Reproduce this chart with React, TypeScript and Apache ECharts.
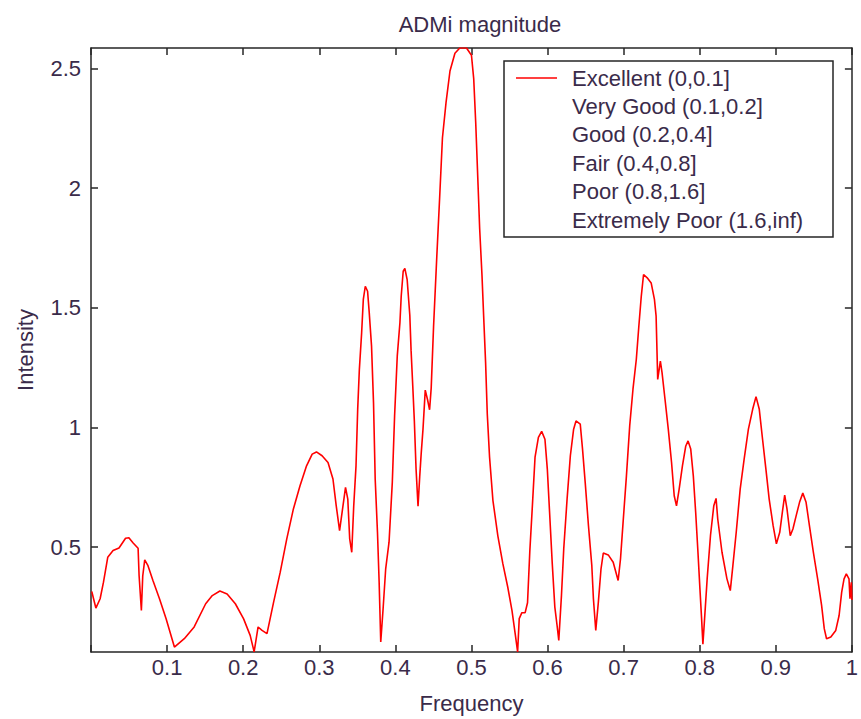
import React, { useEffect, useRef } from "react";
import * as echarts from "echarts";

const TITLE = "ADMi magnitude";
const X_NAME = "Frequency";
const Y_NAME = "Intensity";

const FREQ = [
  0.001, 0.0064, 0.012, 0.0164, 0.022, 0.029, 0.0368, 0.0454, 0.0498, 0.0554,
  0.0619, 0.0632, 0.0662, 0.068, 0.0706, 0.0749, 0.0814, 0.09, 0.0987, 0.1096,
  0.1226, 0.1356, 0.1507, 0.1594, 0.1694, 0.1789, 0.1897, 0.2006, 0.2092, 0.2144,
  0.2196, 0.2248, 0.2313, 0.24, 0.2487, 0.2573, 0.266, 0.2747, 0.2833, 0.2907,
  0.2963, 0.3037, 0.3115, 0.318, 0.3223, 0.3267, 0.33, 0.3345, 0.3375, 0.34,
  0.3427, 0.3453, 0.3483, 0.3505, 0.3527, 0.3557, 0.3579, 0.3605, 0.3635, 0.3657,
  0.3687, 0.3713, 0.3735, 0.3765, 0.3787, 0.3808, 0.3839, 0.3873, 0.3917, 0.396,
  0.399, 0.4025, 0.406, 0.4077, 0.4103, 0.4125, 0.4155, 0.419, 0.4207, 0.4229,
  0.425, 0.4272, 0.4298, 0.432, 0.434, 0.4363, 0.4393, 0.4424, 0.445, 0.4471,
  0.4502, 0.4545, 0.458, 0.4619, 0.4666, 0.4718, 0.4783, 0.4847, 0.4935, 0.5,
  0.503, 0.5056, 0.5087, 0.5108, 0.5139, 0.516, 0.5186, 0.5208, 0.5238, 0.5282,
  0.5347, 0.5412, 0.5477, 0.5533, 0.5576, 0.5607, 0.5628, 0.5663, 0.5706, 0.5737,
  0.5767, 0.5802, 0.5836, 0.588, 0.5923, 0.5966, 0.5997, 0.6027, 0.6062, 0.6096,
  0.6127, 0.6148, 0.6183, 0.6213, 0.6257, 0.63, 0.6343, 0.6374, 0.643, 0.646,
  0.6495, 0.6538, 0.6582, 0.6603, 0.6634, 0.6668, 0.6703, 0.6733, 0.6798, 0.6863,
  0.6928, 0.6959, 0.6993, 0.7037, 0.708, 0.7123, 0.7167, 0.72, 0.7232, 0.7262,
  0.731, 0.7362, 0.7405, 0.7427, 0.7448, 0.7483, 0.7505, 0.7544, 0.7587, 0.763,
  0.7665, 0.7695, 0.773, 0.7773, 0.7817, 0.7847, 0.7882, 0.7916, 0.7947, 0.7977,
  0.8003, 0.8025, 0.8042, 0.8064, 0.8098, 0.8142, 0.8185, 0.8215, 0.8237, 0.8293,
  0.8358, 0.8402, 0.8436, 0.848, 0.8532, 0.8584, 0.864, 0.8696, 0.874, 0.8783,
  0.8826, 0.887, 0.8913, 0.8965, 0.9008, 0.9052, 0.9086, 0.9117, 0.9147, 0.919,
  0.9225, 0.9268, 0.9312, 0.9355, 0.9398, 0.9442, 0.9494, 0.955, 0.9602, 0.9637,
  0.9667, 0.9723, 0.9788, 0.9832, 0.9866, 0.9897, 0.9927, 0.9962, 0.9975, 0.9992,
  1.0,
];

const INTENSITY = [
  0.315, 0.246, 0.285, 0.354, 0.458, 0.486, 0.497, 0.5375, 0.54, 0.518,
  0.496, 0.382, 0.236, 0.38, 0.447, 0.423, 0.361, 0.285, 0.201, 0.083,
  0.118, 0.167, 0.264, 0.298, 0.317, 0.305, 0.264, 0.201, 0.132, 0.063,
  0.167, 0.1525, 0.139, 0.271, 0.396, 0.535, 0.66, 0.757, 0.84, 0.889,
  0.898, 0.882, 0.854, 0.785, 0.673, 0.569, 0.646, 0.75, 0.701, 0.535,
  0.479, 0.673, 0.84, 1.076, 1.243, 1.396, 1.535, 1.59, 1.569, 1.479,
  1.34, 1.104, 0.785, 0.5625, 0.354, 0.104, 0.243, 0.41, 0.521, 0.771,
  1.048, 1.298, 1.4375, 1.548, 1.6525, 1.664, 1.618, 1.469, 1.32, 1.1725,
  1.0245, 0.8275, 0.671, 0.794, 0.893, 0.992, 1.156, 1.115, 1.074, 1.1646,
  1.42, 1.716, 1.946, 2.21, 2.357, 2.489, 2.563, 2.585, 2.585, 2.555,
  2.456, 2.275, 2.012, 1.831, 1.633, 1.469, 1.272, 1.0575, 0.8767, 0.696,
  0.5475, 0.4325, 0.334, 0.235, 0.136, 0.063, 0.202, 0.2267, 0.2267, 0.268,
  0.4817, 0.679, 0.8767, 0.959, 0.984, 0.951, 0.8275, 0.646, 0.4325, 0.25,
  0.169, 0.111, 0.298, 0.493, 0.701, 0.882, 0.993, 1.0275, 1.014, 0.91,
  0.771, 0.59, 0.423, 0.285, 0.1525, 0.271, 0.41, 0.476, 0.468, 0.4375,
  0.361, 0.451, 0.604, 0.798, 1.007, 1.16, 1.285, 1.423, 1.548, 1.639,
  1.625, 1.604, 1.535, 1.465, 1.201, 1.2775, 1.229, 1.118, 0.993, 0.854,
  0.715, 0.673, 0.743, 0.84, 0.923, 0.944, 0.91, 0.798, 0.646, 0.479,
  0.326, 0.201, 0.095, 0.201, 0.368, 0.55, 0.673, 0.704, 0.618, 0.479,
  0.368, 0.319, 0.423, 0.5625, 0.743, 0.868, 0.993, 1.076, 1.129, 1.076,
  0.951, 0.826, 0.701, 0.59, 0.514, 0.5625, 0.646, 0.718, 0.66, 0.548,
  0.576, 0.632, 0.6875, 0.726, 0.6875, 0.59, 0.479, 0.368, 0.257, 0.16,
  0.118, 0.125, 0.1525, 0.215, 0.3125, 0.368, 0.389, 0.368, 0.285, 0.354,
  0.28,
];

const Y_TICKS = [0.5, 1, 1.5, 2, 2.5];
const LEGEND_LABELS = [
  "Excellent (0,0.1]",
  "Very Good (0.1,0.2]",
  "Good (0.2,0.4]",
  "Fair (0.4,0.8]",
  "Poor (0.8,1.6]",
  "Extremely Poor (1.6,inf)",
];

const FONT = "'Liberation Sans', Arial, sans-serif";
const TEXT_COLOR = "#3a2b4a";
const AXIS_COLOR = "#262626";
const LINE_COLOR = "#ff0000";

export default function App() {
  const ref = useRef<HTMLDivElement>(null);

  useEffect(() => {
    if (!ref.current) return;
    const chart = echarts.init(ref.current, null, { renderer: "svg" });

    const axisLine = { show: true, onZero: false, lineStyle: { color: AXIS_COLOR, width: 1.5 } };
    const axisTick = { show: true, inside: true, length: 7, lineStyle: { color: AXIS_COLOR, width: 1.5 } };
    const fmtX = (v: number) => {
      if (Math.abs(v) < 1e-9) return "";
      if (Math.abs(v - 1) < 1e-9) return "1";
      return v.toFixed(1);
    };

    const legendGraphics: any[] = [
      {
        type: "rect",
        shape: { x: 504, y: 61, width: 329, height: 176 },
        style: { fill: "#ffffff", stroke: AXIS_COLOR, lineWidth: 1.5 },
        z: 100,
      },
      {
        type: "line",
        shape: { x1: 516, y1: 78, x2: 557, y2: 78 },
        style: { stroke: LINE_COLOR, lineWidth: 1.5 },
        z: 101,
      },
      ...LEGEND_LABELS.map((t, i) => ({
        type: "text",
        x: 572,
        y: 78 + 28.4 * i,
        z: 101,
        style: {
          text: t,
          fontSize: 22,
          fontFamily: FONT,
          fill: TEXT_COLOR,
          align: "left",
          verticalAlign: "middle",
        },
      })),
    ];

    chart.setOption({
      animation: false,
      backgroundColor: "#ffffff",
      title: {
        text: TITLE,
        left: 475,
        top: 8,
        textAlign: "center",
        textStyle: { fontSize: 22, fontWeight: "normal", fontFamily: FONT, color: TEXT_COLOR },
      },
      grid: { left: 91, top: 48, width: 768, height: 605, containLabel: false },
      xAxis: [
        {
          type: "value",
          position: "bottom",
          min: 0,
          max: 1,
          interval: 0.1,
          axisLine,
          axisTick,
          splitLine: { show: false },
          axisLabel: {
            formatter: fmtX,
            margin: 4,
            fontSize: 22,
            fontFamily: FONT,
            color: TEXT_COLOR,
            showMinLabel: true,
            showMaxLabel: true,
          },
          name: X_NAME,
          nameLocation: "middle",
          nameGap: 40,
          nameTextStyle: { fontSize: 22, fontFamily: FONT, color: TEXT_COLOR },
        },
        {
          type: "value",
          position: "top",
          min: 0,
          max: 1,
          interval: 0.1,
          axisLine,
          axisTick,
          splitLine: { show: false },
          axisLabel: { show: false },
        },
      ],
      yAxis: [
        {
          type: "value",
          position: "left",
          min: 0.0625,
          max: 2.585,
          axisLine,
          axisTick: { ...axisTick, customValues: Y_TICKS },
          splitLine: { show: false },
          axisLabel: {
            customValues: Y_TICKS,
            formatter: (v: number) => String(v),
            margin: 10,
            fontSize: 22,
            fontFamily: FONT,
            color: TEXT_COLOR,
          },
          name: Y_NAME,
          nameLocation: "middle",
          nameGap: 55,
          nameRotate: 90,
          nameTextStyle: { fontSize: 22, fontFamily: FONT, color: TEXT_COLOR },
        },
        {
          type: "value",
          position: "right",
          min: 0.0625,
          max: 2.585,
          axisLine,
          axisTick: { ...axisTick, customValues: Y_TICKS },
          splitLine: { show: false },
          axisLabel: { show: false },
        },
      ],
      series: [
        {
          type: "line",
          name: LEGEND_LABELS[0],
          xAxisIndex: 0,
          yAxisIndex: 0,
          data: FREQ.map((f, i) => [f, INTENSITY[i]]),
          showSymbol: false,
          symbol: "none",
          clip: true,
          lineStyle: { color: LINE_COLOR, width: 1.6 },
        },
      ],
      graphic: legendGraphics,
    });

    return () => {
      chart.dispose();
    };
  }, []);

  return (
    <div
      ref={ref}
      style={{ position: "absolute", left: 0, top: 0, width: 861, height: 719, background: "#fff" }}
    />
  );
}
